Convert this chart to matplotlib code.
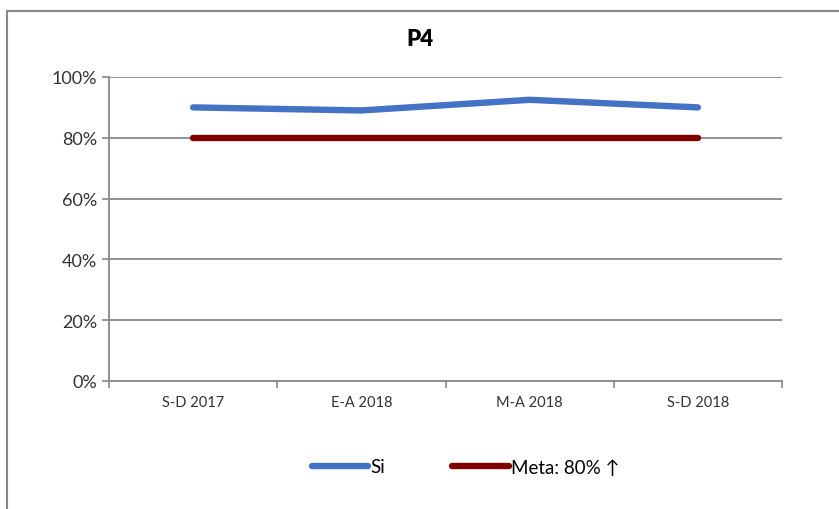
import matplotlib.pyplot as plt
import matplotlib.patches as patches
from matplotlib.ticker import PercentFormatter

categories = ["S-D 2017", "E-A 2018", "M-A 2018", "S-D 2018"]
si = [0.90, 0.89, 0.925, 0.90]
meta = [0.80, 0.80, 0.80, 0.80]
yticks = [0, 0.2, 0.4, 0.6, 0.8, 1.0]

plt.rcParams['font.family'] = ['Lato', 'DejaVu Sans']

fig = plt.figure(figsize=(8.39, 5.10), dpi=100)
ax = fig.add_axes([109/839, 1 - 382/510, (782 - 109)/839, (382 - 78)/510])

x = list(range(len(categories)))
ax.plot(x, si, color="#4472C4", lw=4.6, solid_capstyle="round", label="Si", zorder=3)
ax.plot(x, meta, color="#800000", lw=4.6, solid_capstyle="round", label="Meta: 80% ↑", zorder=3)

ax.set_xlim(-0.5, len(categories) - 0.5)
ax.set_ylim(0, 1.0)
ax.set_yticks(yticks)
ax.yaxis.set_major_formatter(PercentFormatter(1.0, decimals=0))
ax.set_xticks(x)
ax.set_xticklabels(categories, fontsize=10.5, color="#333333")
ax.set_xticks([i - 0.5 for i in range(len(categories) + 1)], minor=True)
ax.tick_params(axis="x", which="major", length=0, pad=10)
ax.tick_params(axis="x", which="minor", length=5, color="#888888", width=1.2)
ax.tick_params(axis="y", length=5, color="#888888", width=1.2, labelsize=13, labelcolor="#333333")

ax.grid(axis="y", color="#888888", lw=1.3)
ax.set_axisbelow(True)
for s in ["top", "right"]:
    ax.spines[s].set_visible(False)
for s in ["left", "bottom"]:
    ax.spines[s].set_color("#888888")
    ax.spines[s].set_linewidth(1.3)

fig.text(0.5, 1 - 40/510, "P4", ha="center", va="center", fontsize=16, fontweight="heavy")

fig.legend(loc="center", bbox_to_anchor=(0.555, 1 - 468/510), ncol=2, frameon=False,
           fontsize=13.5, handlelength=3.0, handletextpad=0.1, columnspacing=3.6)

frame = patches.Rectangle((7/839, -0.05), 1.1, 1 - 12/510 + 0.05, transform=fig.transFigure,
                          fill=False, edgecolor="#888888", lw=1.5)
fig.patches.append(frame)

fig.savefig("out.png", dpi=100)
